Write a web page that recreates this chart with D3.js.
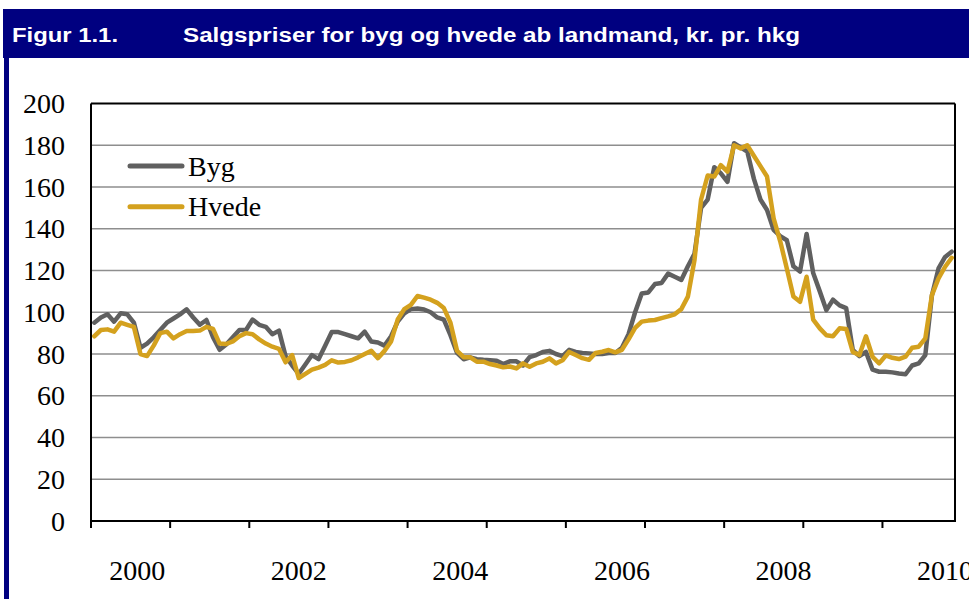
<!DOCTYPE html>
<html>
<head>
<meta charset="utf-8">
<script src="https://cdn.jsdelivr.net/npm/d3@7"></script>
<style>
  body { margin: 0; background: #fff; }
  svg { display: block; }
</style>
</head>
<body>
<svg id="chart" width="969" height="599"></svg>
<script>
// ---- Data (monthly, ~mid-1999 .. mid-2010) ----
const seriesNames = ["Byg", "Hvede"];
const byg = [
  95, 97.5, 99, 95.5, 99.5, 99, 95, 83, 85, 88,
  91.5, 95, 97, 99, 101.4, 97.5, 94, 96.3, 88, 82,
  84.5, 88, 91.5, 91.5, 96.5, 94, 93, 89.5, 91.2, 79,
  74.5, 70.5, 75, 79.5, 77.5, 84, 90.5, 90.5, 89.5, 88.5,
  87.5, 90.7, 86, 85.5, 84, 88.5, 95.5, 99.5, 101.5, 101.8,
  101.3, 100, 97.5, 96.5, 89, 80.5, 77.5, 78.4, 77.5, 77.2,
  77, 76.8, 75.2, 76.5, 76.5, 74.5, 78.5, 79.5, 81, 81.5,
  80, 79, 82, 81, 80.5, 80.3, 80, 80, 80.5, 80.5,
  83, 89.5, 100, 109, 109.5, 113.5, 114, 118.5, 117, 115.5,
  122, 128, 150, 154, 169.5, 166.5, 162.5, 181, 179, 177,
  164, 154, 149, 139.5, 136.5, 134.5, 122, 119.5, 137.5, 118.8,
  110, 101, 106, 103.3, 102, 82, 79, 81, 72.5, 71.5,
  71.5, 71.2, 70.7, 70.3, 74.5, 75.5, 79.5, 108, 121, 126.5,
  129
];
const hvede = [
  88.5, 91.5, 91.8, 90.7, 95, 94, 93, 80, 79, 84,
  90, 90.7, 87.5, 89.5, 91, 91, 91.2, 93, 92, 85,
  84.8, 86, 88.5, 90, 89.5, 87, 85, 83.5, 82.5, 76,
  79.5, 68.5, 70.5, 72.5, 73.5, 74.8, 77, 75.9, 76.2, 77,
  78.4, 80, 81.5, 78, 81.5, 86, 96.5, 101.5, 103.5, 107.8,
  107, 106, 104.5, 102, 95, 81.5, 78.5, 78.4, 76.3, 76.3,
  75.2, 74.5, 73.6, 74, 73.1, 75.5, 73.9, 75.5, 76.3, 77.9,
  75.5, 77, 81, 79.5, 78, 77.2, 80.5, 81.1, 81.9, 80.8,
  82, 87, 92.5, 95.5, 96, 96.3, 97.2, 98, 99, 101.5,
  107.5, 125, 154, 165.5, 165, 170.5, 167.4, 180, 178.5, 180,
  175, 170, 165, 145, 134, 121, 107.5, 105, 117, 96.5,
  92.3, 89, 88.5, 92.3, 92, 81, 79.5, 88.5, 78.7, 75.5,
  79.3, 78.2, 77.6, 78.7, 83, 83.5, 87.5, 108.2, 116.2, 121.8,
  126.1
];
const yTicks = [0, 20, 40, 60, 80, 100, 120, 140, 160, 180, 200];
const yearLabels = ["2000", "2002", "2004", "2006", "2008", "2010"];
const monthsPerTick = 12;
const colors = { Byg: "#606060", Hvede: "#d4a11e" };
const titleNum = "Figur 1.1.";
const titleText = "Salgspriser for byg og hvede ab landmand, kr. pr. hkg";

// ---- Layout ----
const svg = d3.select("#chart");
const plot = { left: 91, right: 955, top: 103.5, bottom: 521 };
const n = byg.length;

const x = d3.scaleLinear().domain([-0.5, n - 0.5]).range([plot.left, plot.right]);
const y = d3.scaleLinear().domain([0, 200]).range([plot.bottom, plot.top]);

// Header band
svg.append("rect").attr("x", 3).attr("y", 9).attr("width", 966).attr("height", 49).attr("fill", "#000080");
svg.append("rect").attr("x", 4).attr("y", 58).attr("width", 5).attr("height", 541).attr("fill", "#000080");
svg.append("text").attr("x", 12).attr("y", 42)
  .attr("font-family", "Liberation Sans, Arial, sans-serif").attr("font-weight", "bold")
  .attr("font-size", 20).attr("fill", "#fff")
  .attr("textLength", 106).attr("lengthAdjust", "spacingAndGlyphs").text(titleNum);
svg.append("text").attr("x", 183).attr("y", 42)
  .attr("font-family", "Liberation Sans, Arial, sans-serif").attr("font-weight", "bold")
  .attr("font-size", 20).attr("fill", "#fff")
  .attr("textLength", 617).attr("lengthAdjust", "spacingAndGlyphs").text(titleText);

// Gridlines
svg.append("g").selectAll("line")
  .data(yTicks.filter(t => t > 0 && t < 200))
  .join("line")
  .attr("x1", plot.left).attr("x2", plot.right)
  .attr("y1", d => y(d)).attr("y2", d => y(d))
  .attr("stroke", "#8e8e8e").attr("stroke-width", 1.6);

// Y axis labels
const serif = "Liberation Serif, 'Times New Roman', serif";
svg.append("g").selectAll("text")
  .data(yTicks)
  .join("text")
  .attr("x", 65).attr("y", d => y(d) + 9.5)
  .attr("text-anchor", "end")
  .attr("font-family", serif).attr("font-size", 28).attr("fill", "#000")
  .text(d => d);

// Series lines
const line = d3.line().x((d, i) => x(i)).y(d => y(d));
[["Byg", byg], ["Hvede", hvede]].forEach(([name, vals]) => {
  svg.append("path").datum(vals)
    .attr("d", line)
    .attr("fill", "none")
    .attr("stroke", colors[name])
    .attr("stroke-width", 4.5)
    .attr("stroke-linejoin", "round")
    .attr("stroke-linecap", "round");
});

// Plot frame
svg.append("line").attr("x1", plot.left).attr("x2", plot.right).attr("y1", plot.top).attr("y2", plot.top)
  .attr("stroke", "#000").attr("stroke-width", 2);
svg.append("line").attr("x1", plot.right).attr("x2", plot.right).attr("y1", plot.top).attr("y2", plot.bottom)
  .attr("stroke", "#000").attr("stroke-width", 2);
svg.append("line").attr("x1", plot.left).attr("x2", plot.left).attr("y1", plot.top).attr("y2", plot.bottom + 7)
  .attr("stroke", "#000").attr("stroke-width", 2);
svg.append("line").attr("x1", plot.left).attr("x2", plot.right + 1).attr("y1", plot.bottom).attr("y2", plot.bottom)
  .attr("stroke", "#000").attr("stroke-width", 2);

// X ticks every 12 months
const tickIdx = d3.range(0, n, monthsPerTick).map(i => i - 0.5);
svg.append("g").selectAll("line")
  .data(tickIdx)
  .join("line")
  .attr("x1", d => x(d)).attr("x2", d => x(d))
  .attr("y1", plot.bottom).attr("y2", plot.bottom + 7)
  .attr("stroke", "#000").attr("stroke-width", 2);

// X labels
const labelScale = d3.scalePoint().domain(yearLabels).range([x(6.5), x(129)]);
svg.append("g").selectAll("text")
  .data(yearLabels)
  .join("text")
  .attr("x", d => labelScale(d)).attr("y", 580)
  .attr("text-anchor", "middle")
  .attr("font-family", serif).attr("font-size", 28).attr("fill", "#000")
  .text(d => d);

// Legend
const legend = svg.append("g");
seriesNames.forEach((name, k) => {
  const ly = 166 + k * 40.7;
  legend.append("line").attr("x1", 130).attr("x2", 182).attr("y1", ly).attr("y2", ly)
    .attr("stroke", colors[name]).attr("stroke-width", 5).attr("stroke-linecap", "round");
  legend.append("text").attr("x", 188).attr("y", ly + 9.5)
    .attr("font-family", serif).attr("font-size", 28).attr("fill", "#000")
    .text(name);
});
</script>
</body>
</html>
